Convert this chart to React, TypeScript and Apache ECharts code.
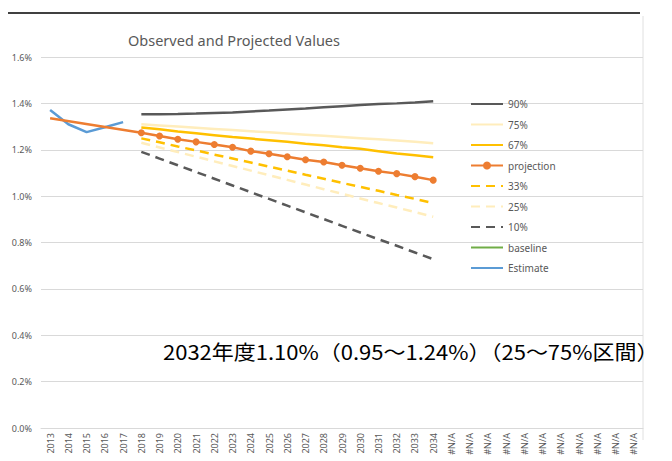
import React, { useEffect, useRef } from "react";
import * as echarts from "echarts";

const years = ["2013","2014","2015","2016","2017","2018","2019","2020","2021","2022","2023","2024","2025","2026","2027","2028","2029","2030","2031","2032","2033","2034"];
const naLabels = ["#N/A","#N/A","#N/A","#N/A","#N/A","#N/A","#N/A","#N/A","#N/A","#N/A","#N/A"];
const categories = [...years, ...naLabels];

const yTicks = { min: 0, max: 1.6, interval: 0.2 };

const estimate = [1.371, 1.31, 1.276, 1.297, 1.319];
const projection = [1.336, null, null, null, null, 1.273, 1.259, 1.245, 1.234, 1.223, 1.211, 1.194, 1.183, 1.17, 1.157, 1.147, 1.133, 1.12, 1.107, 1.097, 1.084, 1.069];
const p90 = [null, null, null, null, null, 1.353, 1.353, 1.354, 1.356, 1.359, 1.361, 1.365, 1.369, 1.374, 1.378, 1.383, 1.388, 1.393, 1.397, 1.4, 1.404, 1.409];
const p75 = [null, null, null, null, null, 1.31, 1.305, 1.3, 1.295, 1.29, 1.285, 1.28, 1.275, 1.27, 1.265, 1.26, 1.255, 1.25, 1.245, 1.24, 1.234, 1.228];
const p67 = [null, null, null, null, null, 1.296, 1.288, 1.279, 1.271, 1.263, 1.255, 1.248, 1.241, 1.234, 1.226, 1.219, 1.211, 1.204, 1.194, 1.184, 1.176, 1.168];
const p33 = [null, null, null, null, null, 1.249, 1.232, 1.214, 1.197, 1.179, 1.162, 1.145, 1.127, 1.11, 1.092, 1.075, 1.057, 1.04, 1.023, 1.005, 0.988, 0.97];
const p25 = [null, null, null, null, null, 1.23, 1.21, 1.19, 1.17, 1.15, 1.13, 1.11, 1.09, 1.07, 1.05, 1.03, 1.01, 0.99, 0.97, 0.951, 0.931, 0.911];
const p10 = [null, null, null, null, null, 1.191, 1.162, 1.133, 1.104, 1.075, 1.046, 1.017, 0.988, 0.959, 0.93, 0.901, 0.872, 0.843, 0.814, 0.786, 0.757, 0.728];
const baseline: (number | null)[] = [];

const legendNames = ["90%", "75%", "67%", "projection", "33%", "25%", "10%", "baseline", "Estimate"];
const titleText = "Observed and Projected Values";
const noteText = "2032年度1.10%（0.95～1.24%）（25～75%区間）";

export default function App() {
  const ref = useRef<HTMLDivElement>(null);
  useEffect(() => {
    document.body.style.margin = "0";
    const chart = echarts.init(ref.current!, null, { renderer: "svg" });
    const font = "Noto Sans";
    const dash = [9, 6];
    const line = (name: string, data: any[], color: string, type: any = "solid", extra: any = {}) => ({
      name,
      type: "line",
      data,
      symbol: "none",
      connectNulls: false,
      lineStyle: { color, width: 2.5, type },
      itemStyle: { color },
      ...extra,
    });
    const projData = projection.map((v, i) =>
      i < 5 ? (v === null ? null : { value: v, symbol: "none" }) : v
    );
    chart.setOption({
      animation: false,
      backgroundColor: "#ffffff",
      textStyle: { fontFamily: font },
      grid: { left: 41, right: 29, top: 57, bottom: 33, containLabel: false },
      legend: {
        orient: "vertical",
        left: 465,
        top: 94,
        itemWidth: 32,
        itemHeight: 10,
        itemGap: 10.5,
        textStyle: { color: "#595959", fontSize: 10, fontFamily: font },
        data: legendNames.map((n) =>
          n === "projection" ? { name: n } : { name: n, itemStyle: { opacity: 0 } }
        ),
      },
      xAxis: {
        type: "category",
        data: categories,
        boundaryGap: true,
        axisLine: { lineStyle: { color: "#d9d9d9" } },
        axisTick: { show: false },
        axisLabel: { interval: 0, rotate: 90, color: "#595959", fontSize: 9, margin: 5, fontFamily: font },
      },
      yAxis: {
        type: "value",
        min: yTicks.min,
        max: yTicks.max,
        interval: yTicks.interval,
        axisLine: { show: false },
        axisTick: { show: false },
        splitLine: { lineStyle: { color: "#d9d9d9", width: 1 } },
        axisLabel: { color: "#595959", fontSize: 9, margin: 9, fontFamily: font, formatter: (v: number) => v.toFixed(1) + "%" },
      },
      series: [
        line("Estimate", estimate, "#5B9BD5"),
        line("baseline", baseline, "#70AD47"),
        line("90%", p90, "#595959"),
        line("75%", p75, "#FFEDBC"),
        line("67%", p67, "#FFC000"),
        line("33%", p33, "#FFC000", dash),
        line("25%", p25, "#FFEDBC", dash),
        line("10%", p10, "#595959", dash),
        line("projection", projData, "#ED7D31", "solid", { symbol: "circle", symbolSize: 7, connectNulls: true }),
      ],
      graphic: [
        { type: "line", shape: { x1: 8, y1: 13, x2: 640, y2: 13 }, style: { stroke: "#000000", lineWidth: 1.5 } },
        { type: "line", shape: { x1: 643, y1: 16, x2: 643, y2: 440 }, style: { stroke: "#e0e0e0", lineWidth: 1 } },
        { type: "text", left: 128, top: 32, style: { text: titleText, fill: "#595959", fontSize: 14.5, fontFamily: font } },
        {
          type: "text",
          x: 163,
          y: 341,
          scaleX: 1.1,
          z: 100,
          style: { text: noteText, fill: "#000000", fontSize: 20, fontFamily: "Noto Sans CJK JP", verticalAlign: "top", align: "left" },
        },
      ],
    });
    return () => chart.dispose();
  }, []);
  return <div ref={ref} style={{ width: 672, height: 461 }} />;
}
